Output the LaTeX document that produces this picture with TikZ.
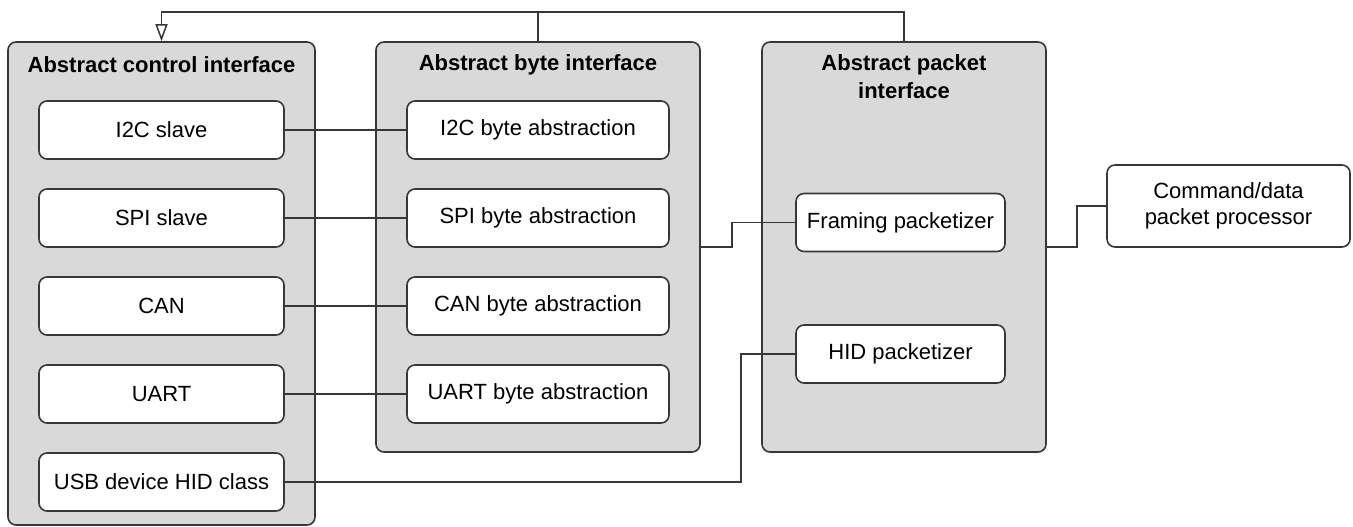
\documentclass[tikz,border=0pt]{standalone}
\usepackage{fontspec}
\setmainfont{Liberation Sans}
\usetikzlibrary{arrows.meta}
\definecolor{panel}{RGB}{217,217,217}
\definecolor{edge}{RGB}{55,55,55}

\begin{document}
\begin{tikzpicture}[x=0.5pt, y=-0.5pt,
    group/.style={draw=edge, line width=0.8pt, fill=panel, rounded corners=4pt, inner sep=0pt},
    unit/.style={draw=edge, line width=0.8pt, fill=white, rounded corners=4pt, minimum height=29pt,
        inner sep=0pt, align=center, font=\fontsize{11}{13}\selectfont},
    head/.style={align=center, font=\fontsize{11}{14}\selectfont\bfseries},
    wire/.style={draw=edge, line width=0.75pt}]
\useasboundingbox (0,0) rectangle (1353,526);

% the three interface groups
\node[group, minimum width=153.5pt, minimum height=241.5pt] (ctrl) at (161.5,283.5) {};
\node[group, minimum width=162pt, minimum height=205pt] (byte) at (538,247) {};
\node[group, minimum width=142pt, minimum height=205pt] (pkt) at (904,247) {};
\node[head] (ctrlt) at (161.5,65) {Abstract control interface};
\node[head] (bytet) at (538,65) {Abstract byte interface};
\node[head] (pktt) at (904,77) {Abstract packet\\interface};

\foreach \i/\a/\b in {1/I2C slave/I2C, 2/SPI slave/SPI, 3/CAN/CAN, 4/UART/UART}
{
    \node[unit, minimum width=122.5pt] (c\i) at (161.5,{42+88*\i}) {\a};
    \node[unit, minimum width=131pt] (b\i) at (538,{42+88*\i}) {\b\ byte abstraction};
    \draw[wire] (c\i) -- (b\i);
}
\node[unit, minimum width=122.5pt] (usb) at (161.5,482) {USB device HID class};

\node[unit, minimum width=104.5pt] (frame) at (900.5,222.5) {Framing packetizer};
\node[unit, minimum width=104.5pt] (hid) at (900.5,354) {HID packetizer};
\node[unit, minimum width=121.5pt, minimum height=41pt] (cmd) at (1228.5,206) {Command/data\\packet processor};

% links
\draw[wire] (byte.east) -- ++(31,0) |- (frame.west);
\draw[wire] (pkt.east) -- ++(30,0) |- (cmd.west);
\draw[wire] (usb.east) -- ++(456,0) |- (hid.west);

% feedback along the top
\coordinate (top) at (0,12);
\draw[wire, -{Triangle[open, length=8.5pt, width=6pt]}] (pkt.north) -- (pkt.north |- top) -| (ctrl.north);
\draw[wire] (byte.north) -- (byte.north |- top);
\end{tikzpicture}
\end{document}
